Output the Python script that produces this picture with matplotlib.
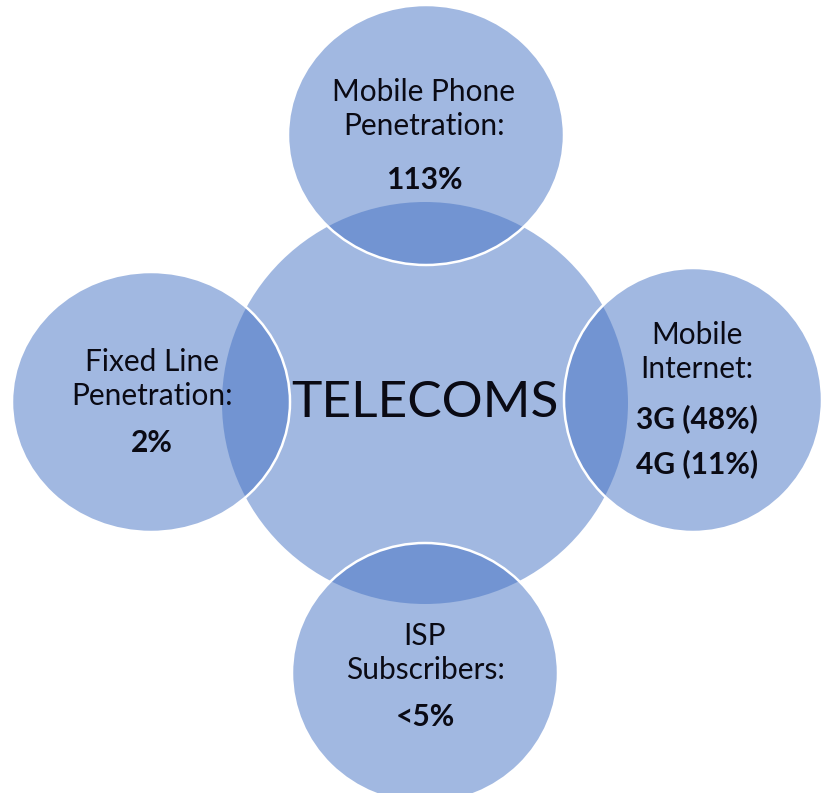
import matplotlib
matplotlib.use("Agg")
import matplotlib.pyplot as plt
from matplotlib.patches import Ellipse

# Diagram content
hub_label = "TELECOMS"
spoke_titles = ["Mobile Phone\nPenetration:", "Fixed Line\nPenetration:",
                "Mobile\nInternet:", "ISP\nSubscribers:"]
spoke_values = ["113%", "2%", "3G (48%)\n4G (11%)", "<5%"]

# Layout in pixel coordinates (x, y, half-width, half-height)
hub_geom = (425, 403, 203, 201)
spoke_geom = [(426, 135, 138, 130),
              (151, 402, 139, 130),
              (693, 400, 129, 132),
              (425, 673, 133, 130)]
title_x = [424, 152, 697, 425]
title_y = [109, 379, 352, 653]
value_y = [180, 443, 441, 717]

W, H = 821, 793
fig = plt.figure(figsize=(W / 100, H / 100), dpi=100)
ax = fig.add_axes([0, 0, 1, 1])
ax.set_xlim(0, W)
ax.set_ylim(H, 0)
ax.axis("off")

fill = "#4472C4"
font = ["Lato", "DejaVu Sans"]
ink = "#0a0a14"

x, y, rx, ry = hub_geom
ax.add_patch(Ellipse((x, y), 2 * rx, 2 * ry, facecolor=fill, alpha=0.5,
                     edgecolor="none", zorder=1))
for (x, y, rx, ry) in spoke_geom:
    ax.add_patch(Ellipse((x, y), 2 * rx, 2 * ry, facecolor=fill, alpha=0.5,
                         edgecolor="none", zorder=2))
    ax.add_patch(Ellipse((x, y), 2 * rx, 2 * ry, facecolor="none",
                         edgecolor="white", linewidth=1.8, zorder=2.5))

ax.text(hub_geom[0], hub_geom[1], hub_label, ha="center", va="center",
        fontsize=37, family=font, color=ink, zorder=3)

for tx, t, v, ty, vy in zip(title_x, spoke_titles, spoke_values,
                            title_y, value_y):
    ax.text(tx, ty, t, ha="center", va="center", fontsize=21.5, family=font,
            color=ink, linespacing=1.3, zorder=3)
    ax.text(tx, vy, v, ha="center", va="center", fontsize=21.5, family=font,
            fontweight="bold", color=ink, linespacing=1.68, zorder=3)

fig.savefig("out.png", dpi=100)
